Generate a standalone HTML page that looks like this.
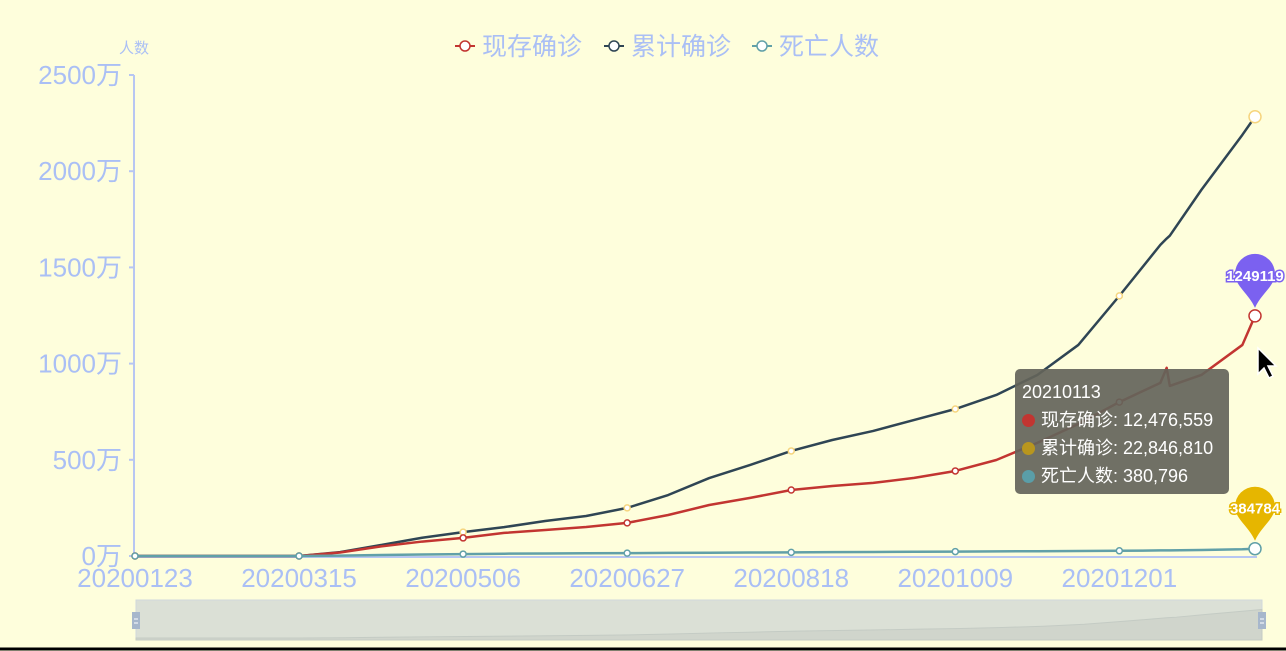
<!DOCTYPE html>
<html><head><meta charset="utf-8">
<style>
html,body{margin:0;padding:0;background:#fefedc;}
body{width:1286px;height:651px;overflow:hidden;position:relative;font-family:"Liberation Sans","Noto Sans CJK SC",sans-serif;}
svg{position:absolute;left:0;top:0;}
#tooltip{position:absolute;left:1015px;top:369px;width:214px;height:125px;background:rgba(100,100,90,0.92);border-radius:5px;color:#fff;font-size:18px;box-sizing:border-box;padding:9px 7px;line-height:28px;}
#tooltip .dot{display:inline-block;width:13px;height:13px;border-radius:50%;margin-right:6px;vertical-align:-1px;}
</style></head><body>
<svg id="chart" width="1286" height="651"></svg>
<div id="tooltip">
<div>20210113</div>
<div><span class="dot" style="background:#c23531"></span>现存确诊: 12,476,559</div>
<div><span class="dot" style="background:#b8961e"></span>累计确诊: 22,846,810</div>
<div><span class="dot" style="background:#5a9ea8"></span>死亡人数: 380,796</div>
</div>
<svg width="30" height="40" style="left:1256px;top:346px"><path d="M2 2 L2 28 L8 22 L13 32 L17 30 L12 20 L20 20 Z" fill="#000" stroke="#fff" stroke-width="1.5"/></svg>
<script>
const xLabels=["20200123","20200315","20200506","20200627","20200818","20201009","20201201"];
const yTicks=[0,500,1000,1500,2000,2500];
const days=[0,52,65,78,91,104,117,130,143,156,169,182,195,208,221,234,247,260,273,286,299,312,325,327,328,338,351,355];
const totalVals=[0,0,20,57,95,124,150,182,208,250,317,405,473,546,603,650,707,764,837,941,1097,1352,1617,1650,1665,1903,2189,2283];
const activeVals=[0,0,18,50,75,94,120,135,151,172,213,265,302,343,364,380,406,442,499,588,686,800,900,978,884,941,1097,1248];
const deathVals=[0,0,2,5,8,10,12,13,14,15,16,17,18,19,20,21,22,23,24,25,26,27,29,29,29,31,35,38];
const maxDay=355;
const NS="http://www.w3.org/2000/svg";
const svg=document.getElementById('chart');
const X0=135,X1=1255,Y0=556,Y1=75;
function xs(d){return X0+(X1-X0)*d/maxDay;}
function ys(v){return Y0-(Y0-Y1)*v/2500;}
function mk(tag,attrs,parent){const e=document.createElementNS(NS,tag);for(const k in attrs)e.setAttribute(k,attrs[k]);(parent||svg).appendChild(e);return e;}
const axisC="#b7c6f2",labC="#aabff5";
// y axis
const ya=mk('line',{x1:X0-1,y1:Y1,x2:X0-1,y2:Y0,stroke:axisC,'stroke-width':2});


yTicks.forEach(v=>{
 mk('line',{x1:X0-6,x2:X0-1,y1:ys(v),y2:ys(v),stroke:axisC,'stroke-width':2});
 const t=mk('text',{x:122,y:ys(v)+9,'text-anchor':'end','font-size':26,fill:labC});
 t.textContent=v+'万';
 
 
});
const yt=mk('text',{x:134,y:53,'text-anchor':'middle','font-size':15,fill:labC});
yt.textContent='人数';


// x axis
const xa=mk('line',{x1:X0-1,y1:Y0+1,x2:X1+2,y2:Y0+1,stroke:axisC,'stroke-width':2});


xLabels.forEach((l,i)=>{
 const t=mk('text',{x:xs(i*52),y:587,'text-anchor':'middle','font-size':26,fill:labC});
 t.textContent=l;
 
 
});
function valAt(vals,d){for(let i=0;i<days.length-1;i++){if(d>=days[i]&&d<=days[i+1]){return vals[i]+(vals[i+1]-vals[i])*(d-days[i])/(days[i+1]-days[i]);}}return vals[vals.length-1];}
function series(vals,color,dotC,name,w){
 const p=mk('polyline',{points:days.map((d,i)=>xs(d)+','+ys(vals[i])).join(' '),fill:'none',stroke:color,'stroke-width':w,'stroke-linejoin':'round'});
 
 
 for(let d=0;d<maxDay;d+=52){
  const c=mk('circle',{cx:xs(d),cy:ys(valAt(vals,d)),r:3,fill:'#fff',stroke:dotC,'stroke-width':1.5});
  
  
 }
 const e=mk('circle',{cx:xs(maxDay),cy:ys(vals[vals.length-1]),r:6,fill:'#fff',stroke:dotC,'stroke-width':1.5});
 
 
}
series(totalVals,'#2f4554','#f6d57e','total',2.5);
series(activeVals,'#c23531','#c23531','active',2.5);
series(deathVals,'#61a0a8','#61a0a8','deaths',2.5);
// mark pins
function pin(v,color,label,name){
 const x=xs(maxDay),y=ys(v)-8,g=mk('g',{});
 
 
 mk('path',{d:`M${x} ${y} C${x-6} ${y-14} ${x-20} ${y-22} ${x-20} ${y-34} A20 20 0 1 1 ${x+20} ${y-34} C${x+20} ${y-22} ${x+6} ${y-14} ${x} ${y} Z`,fill:color},g);
 const t=mk('text',{x:x,y:y-27,'text-anchor':'middle','font-size':15,'font-weight':'bold',fill:'#fff',stroke:color,'stroke-width':3,'paint-order':'stroke'},g);
 t.textContent=label;
}
pin(activeVals[activeVals.length-1],'#7b61f0','1249119','active-max-pin');
pin(deathVals[deathVals.length-1],'#e6b600','384784','deaths-max-pin');
// legend
const leg=[['现存确诊','#c23531',455],['累计确诊','#2f4554',604],['死亡人数','#61a0a8',752]];
leg.forEach(l=>{
 const g=mk('g',{});
 
 
 mk('line',{x1:l[2],x2:l[2]+20,y1:46,y2:46,stroke:l[1],'stroke-width':2},g);
 mk('circle',{cx:l[2]+10,cy:46,r:5,fill:'#fff',stroke:l[1],'stroke-width':1.5},g);
 const t=mk('text',{x:l[2]+27,y:55,'font-size':25,fill:labC},g);
 t.textContent=l[0];
});
// data zoom
const dz=mk('g',{});


mk('rect',{x:136,y:600,width:1126,height:40,fill:'#dbe0d6',stroke:'#d0d8dc'},dz);
const pts=days.map((d,i)=>(136+1126*d/maxDay)+','+(638-30*totalVals[i]/2400)).join(' ');
mk('polygon',{points:'136,640 '+pts+' 1262,640',fill:'#d0d5cc',stroke:'#c4cbc4'},dz);
[136,1262].forEach(x=>{mk('rect',{x:x-4,y:612,width:8,height:17,fill:'#a7b7cc'},dz);mk('line',{x1:x-2,x2:x+2,y1:619,y2:619,stroke:'#fff'},dz);mk('line',{x1:x-2,x2:x+2,y1:623,y2:623,stroke:'#fff'},dz);});
mk('line',{x1:0,x2:1286,y1:649,y2:649,stroke:'#000','stroke-width':3});
</script>
</body></html>
